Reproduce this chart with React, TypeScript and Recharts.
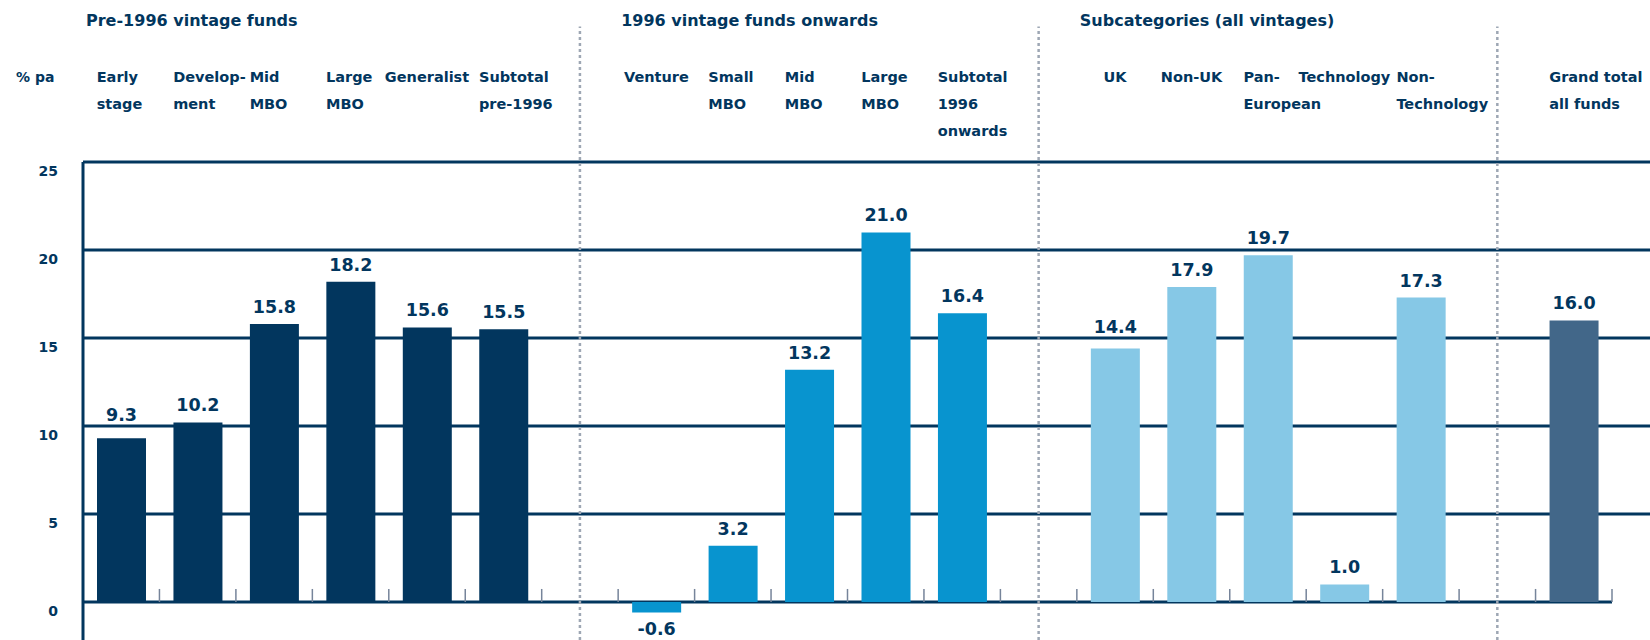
import {
  Bar,
  BarChart,
  CartesianGrid,
  Cell,
  LabelList,
  ReferenceLine,
  XAxis,
  YAxis,
} from "recharts";

const groupTitles = [
  "Pre-1996 vintage funds",
  "1996 vintage funds onwards",
  "Subcategories (all vintages)",
  "",
];

const pre1996Labels = ["Early\nstage", "Develop-\nment", "Mid\nMBO", "Large\nMBO", "Generalist", "Subtotal\npre-1996"];
const pre1996Values = [9.3, 10.2, 15.8, 18.2, 15.6, 15.5];

const post1996Labels = ["Venture", "Small\nMBO", "Mid\nMBO", "Large\nMBO", "Subtotal\n1996\nonwards"];
const post1996Values = [-0.6, 3.2, 13.2, 21.0, 16.4];

const subLabels = ["UK", "Non-UK", "Pan-\nEuropean", "Technology", "Non-\nTechnology"];
const subValues = [14.4, 17.9, 19.7, 1.0, 17.3];

const totalLabels = ["Grand total\nall funds"];
const totalValues = [16.0];

const yTicks = [0, 5, 10, 15, 20, 25];

const NAVY = "#02365e";
const groupColors = [NAVY, "#0894cf", "#86c8e6", "#426789"];
const FONT = "'DejaVu Sans', sans-serif";

const WIDTH = 1650;
const HEIGHT = 640;
const PLOT_TOP = 162;
const PLOT_LEFT = 83;
const PAD_RIGHT = 38;
const BAR_SIZE = 49;
const Y_MIN = -2.16;
const Y_MAX = 25;
const TICK_HEIGHT = 0.74;

type Row = { slot: number; label: string; value: number; color: string; title: string };

const groups = [
  { labels: pre1996Labels, values: pre1996Values },
  { labels: post1996Labels, values: post1996Values },
  { labels: subLabels, values: subValues },
  { labels: totalLabels, values: totalValues },
];

const rows: Row[] = [];
const gapSlots: number[] = [];
let slot = 0;
groups.forEach((g, gi) => {
  if (gi > 0) {
    gapSlots.push(slot + 0.5);
    slot += 1;
  }
  g.labels.forEach((label, i) => {
    rows.push({
      slot: slot + 0.5,
      label,
      value: g.values[i],
      color: groupColors[gi],
      title: i === 0 ? groupTitles[gi] : "",
    });
    slot += 1;
  });
});
const slotCount = slot;
const boundaries = Array.from({ length: slotCount + 1 }, (_, i) => i);

const STEP = (WIDTH - PLOT_LEFT - PAD_RIGHT) / slotCount;
const PX_PER_UNIT = (HEIGHT - PLOT_TOP) / (Y_MAX - Y_MIN);
const zeroY = PLOT_TOP + Y_MAX * PX_PER_UNIT;

const CategoryTick = (props: any) => {
  const { x, payload, index } = props;
  const row = rows.find((r) => Math.abs(r.slot - payload.value) < 1e-6);
  if (!row) return null;
  const lines = row.label.split("\n");
  // single-line labels sit centred over the bar, wrapped ones start at its left edge
  const single = lines.length === 1;
  const tx = single ? x : x - BAR_SIZE / 2;
  return (
    <g fontFamily={FONT} fontWeight="bold" fill={NAVY}>
      {index === 0 && (
        <text x={16} y={82} fontSize={14}>
          % pa
        </text>
      )}
      {row.title && (
        <text x={x - STEP / 2 + 3} y={26} fontSize={16}>
          {row.title}
        </text>
      )}
      <text x={tx} y={82} fontSize={14.5} textAnchor={single ? "middle" : "start"}>
        {lines.map((l, i) => (
          <tspan key={i} x={tx} dy={i === 0 ? 0 : 27}>
            {l}
          </tspan>
        ))}
      </text>
    </g>
  );
};

const ValueTick = (props: any) => {
  const { x, y, payload } = props;
  return (
    <text x={x} y={y + 14} textAnchor="end" fontFamily={FONT} fontWeight="bold" fontSize={14} fill={NAVY}>
      {payload.value}
    </text>
  );
};

const ValueLabel = (props: any) => {
  const box = props.viewBox && props.viewBox.width != null ? props.viewBox : props;
  const { x, y, width, height } = box;
  const value = Number(props.value);
  const top = Math.min(y, y + height);
  const bottom = Math.max(y, y + height);
  const cx = x + width / 2;
  let baseline: number;
  if (value < 0) {
    baseline = bottom + 22;
  } else {
    baseline = top - 11;
    yTicks.forEach((t) => {
      const g = zeroY - t * PX_PER_UNIT;
      if (g >= baseline - 15 && g <= baseline + 4) baseline = g - 5;
    });
  }
  return (
    <text x={cx} y={baseline} textAnchor="middle" fontFamily={FONT} fontWeight="bold" fontSize={17.5} fill={NAVY}>
      {value.toFixed(1)}
    </text>
  );
};

export default function App() {
  return (
    <div style={{ position: "absolute", left: 0, top: 0, width: WIDTH, height: HEIGHT, background: "#fff" }}>
      <BarChart
        width={WIDTH}
        height={HEIGHT}
        data={rows}
        barSize={BAR_SIZE}
        margin={{ top: 0, right: 0, bottom: 0, left: 0 }}
      >
        <CartesianGrid
          vertical={false}
          stroke={NAVY}
          strokeWidth={3}
          horizontalValues={[5, 10, 15, 20, 25]}
        />
        <XAxis
          type="number"
          dataKey="slot"
          orientation="top"
          domain={[0, slotCount]}
          ticks={rows.map((r) => r.slot)}
          interval={0}
          allowDecimals
          height={PLOT_TOP}
          padding={{ left: 0, right: PAD_RIGHT }}
          axisLine={false}
          tickLine={false}
          tick={(p: any) => <CategoryTick {...p} />}
        />
        <YAxis
          type="number"
          domain={[Y_MIN, Y_MAX]}
          ticks={yTicks}
          allowDataOverflow
          width={PLOT_LEFT}
          axisLine={{ stroke: NAVY, strokeWidth: 3 }}
          tickLine={false}
          tickSize={0}
          tickMargin={25}
          tick={(p: any) => <ValueTick {...p} />}
        />
        {gapSlots.map((s) => (
          <ReferenceLine
            key={`sep-${s}`}
            segment={[
              { x: s, y: Y_MIN },
              { x: s, y: 32.7 },
            ]}
            ifOverflow="visible"
            stroke="#9ea7b4"
            strokeWidth={2.5}
            strokeDasharray="3 3"
          />
        ))}
        {boundaries.map((b) => (
          <ReferenceLine
            key={`tick-${b}`}
            segment={[
              { x: b, y: 0 },
              { x: b, y: TICK_HEIGHT },
            ]}
            ifOverflow="visible"
            stroke="#76849a"
            strokeWidth={1.5}
          />
        ))}
        <ReferenceLine
          segment={[
            { x: 0, y: 0 },
            { x: slotCount, y: 0 },
          ]}
          ifOverflow="visible"
          stroke={NAVY}
          strokeWidth={3}
          zIndex={250}
        />
        <Bar dataKey="value" isAnimationActive={false}>
          {rows.map((r) => (
            <Cell key={r.slot} fill={r.color} />
          ))}
          <LabelList dataKey="value" content={(p: any) => <ValueLabel {...p} />} />
        </Bar>
      </BarChart>
    </div>
  );
}
